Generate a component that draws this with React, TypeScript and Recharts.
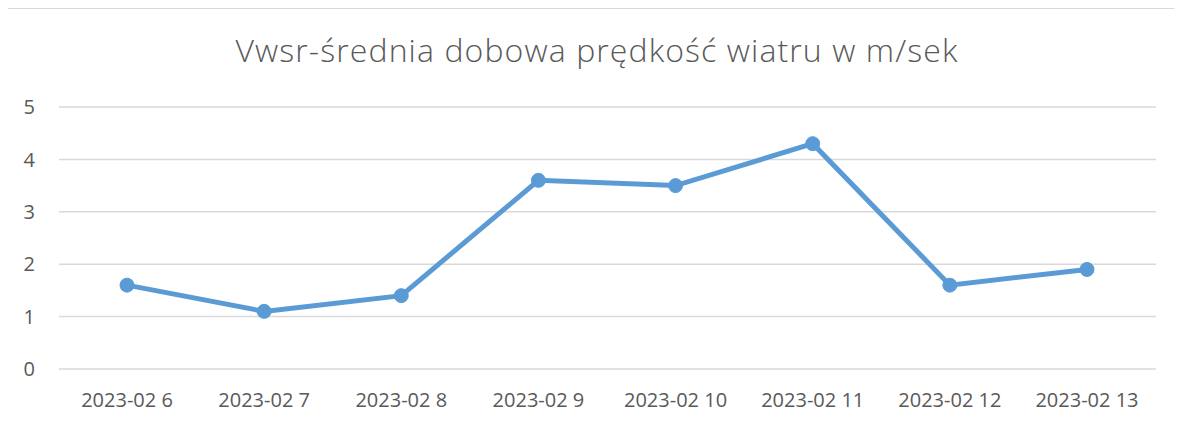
import React from 'react';
import { LineChart, Line, XAxis, YAxis, CartesianGrid } from 'recharts';

const categories = ['2023-02 6', '2023-02 7', '2023-02 8', '2023-02 9', '2023-02 10', '2023-02 11', '2023-02 12', '2023-02 13'];
const windSpeed = [1.6, 1.1, 1.4, 3.6, 3.5, 4.3, 1.6, 1.9];
const yTicks = [0, 1, 2, 3, 4, 5];
const title = 'Vwsr-średnia dobowa prędkość wiatru w m/sek';

const data = categories.map((c, i) => ({ name: c, value: windSpeed[i] }));

const FONT = '"Open Sans", "Liberation Sans", sans-serif';

export default function App() {
  return (
    <div
      style={{
        position: 'relative',
        width: 1174,
        height: 415,
        marginLeft: -1,
        borderTop: '1px solid #d9d9d9',
        borderLeft: '1px solid #d9d9d9',
        background: '#fff',
        fontFamily: FONT,
      }}
    >
      <LineChart
        width={1174}
        height={415}
        data={data}
        margin={{ top: 98, right: 26, bottom: 25, left: 11 }}
      >
        <text
          x={589}
          y={53}
          textAnchor="middle"
          fontSize={32}
          letterSpacing={1.1}
          fill="#595959"
          fontFamily={FONT}
          fontWeight={300}
        >
          {title}
        </text>
        <CartesianGrid vertical={false} stroke="#d9d9d9" strokeWidth={1.5} />
        <XAxis
          dataKey="name"
          axisLine={false}
          tickLine={false}
          tickSize={0}
          tickMargin={24}
          height={30}
          interval={0}
          padding={{ left: 68, right: 69 }}
          tick={{ fill: '#595959', fontSize: 20, fontFamily: FONT }}
        />
        <YAxis
          domain={[0, 5]}
          ticks={yTicks}
          axisLine={false}
          tickLine={false}
          tickSize={0}
          tickMargin={24}
          width={40}
          tick={{ fill: '#595959', fontSize: 20, fontFamily: FONT }}
        />
        <Line
          type="linear"
          dataKey="value"
          stroke="#5b9bd5"
          strokeWidth={5}
          dot={{ r: 7, fill: '#5b9bd5', stroke: '#5b9bd5', strokeWidth: 1 }}
          isAnimationActive={false}
        />
      </LineChart>
    </div>
  );
}
